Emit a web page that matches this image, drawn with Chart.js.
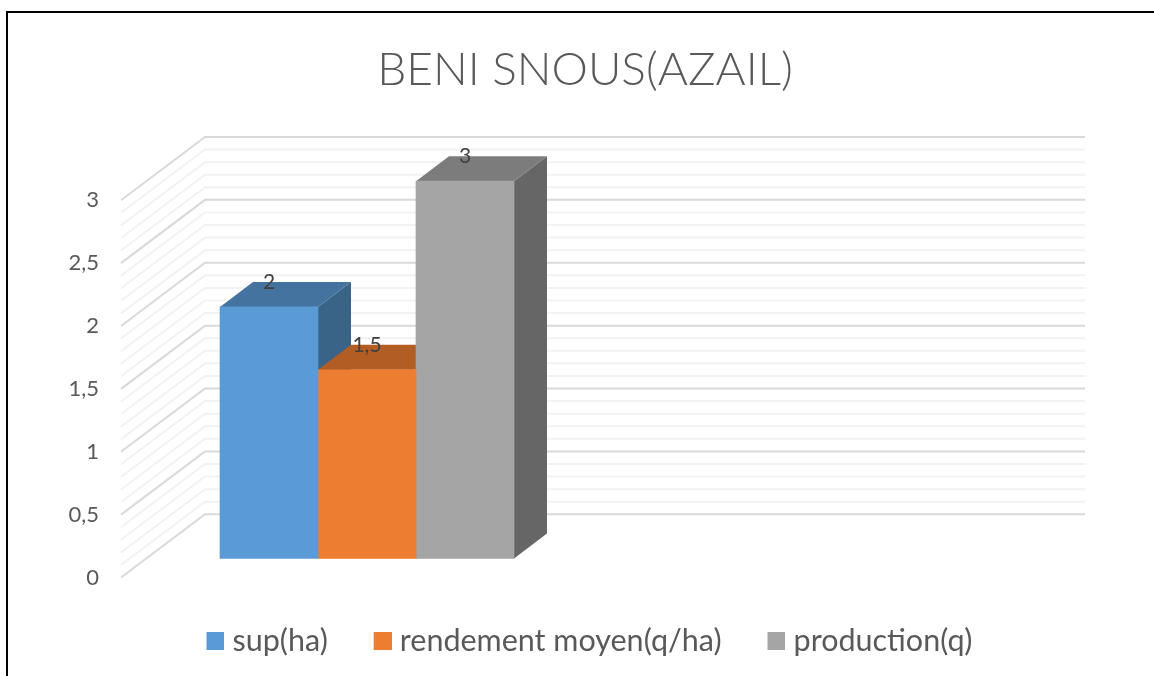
<!DOCTYPE html>
<html><head><meta charset="utf-8">
<style>
html,body{margin:0;padding:0;background:#fff;overflow:hidden}
#wrap{position:absolute;left:0;top:0;width:1154px;height:676px}
#frame{position:absolute;left:6px;top:11px;width:1148px;height:665px;border-left:2.5px solid #000;border-top:2.5px solid #000;box-sizing:border-box}
canvas{position:absolute;left:0;top:0}
</style>
<script src="https://cdn.jsdelivr.net/npm/chart.js@4/dist/chart.umd.min.js"></script>
</head><body><div id="wrap"><div id="frame"></div><canvas id="c" width="1154" height="676"></canvas></div>
<script>
const chartTitle = 'BENI SNOUS(AZAIL)';
const categories = ['AZAIL', ''];
const seriesNames = ['sup(ha)', 'rendement moyen(q/ha)', 'production(q)'];
const supHa = [2];
const rendementMoyen = [1.5];
const production = [3];
const frontColors = ['#5B9BD5', '#ED7D31', '#A5A5A5'];
const topColors = ['#44739F', '#B15D24', '#7C7C7C'];
const sideColors = ['#3A6487', '#9A5120', '#666666'];
const yTickValues = [0, 0.5, 1, 1.5, 2, 2.5, 3];
const minorGridValues = [0.1,0.2,0.3,0.4,0.6,0.7,0.8,0.9,1.1,1.2,1.3,1.4,1.6,1.7,1.8,1.9,2.1,2.2,2.3,2.4,2.6,2.7,2.8,2.9];

const DEPTH_X = 33, DEPTH_Y = 25, WALL_X = 84;

function legendSwatch(color) {
  const c = document.createElement('canvas');
  c.width = 34; c.height = 18;
  const g = c.getContext('2d');
  g.fillStyle = color;
  g.fillRect(16, 0, 18, 18);
  return c;
}

const threeD = {
  id: 'threeD',
  beforeDatasetsDraw(chart) {
    const ctx = chart.ctx, f = chart.scales.y, b = chart.scales.yBack, area = chart.chartArea;
    const left = area.left, back = left + WALL_X, right = area.right - 20;
    ctx.save();
    ctx.lineWidth = 2;
    const line = (v, color) => {
      ctx.strokeStyle = color;
      ctx.beginPath();
      ctx.moveTo(left, f.getPixelForValue(v));
      ctx.lineTo(back, b.getPixelForValue(v));
      ctx.lineTo(right, b.getPixelForValue(v));
      ctx.stroke();
    };
    minorGridValues.forEach(v => line(v, '#F2F2F2'));
    yTickValues.forEach(v => line(v, '#D9D9D9'));
    chart.data.datasets.forEach((ds, i) => {
      const bar = chart.getDatasetMeta(i).data[0];
      const l = bar.x - bar.width / 2, r = bar.x + bar.width / 2, t = bar.y, bs = bar.base;
      ctx.fillStyle = sideColors[i];
      ctx.beginPath();
      ctx.moveTo(r, t); ctx.lineTo(r + DEPTH_X, t - DEPTH_Y);
      ctx.lineTo(r + DEPTH_X, bs - DEPTH_Y); ctx.lineTo(r, bs);
      ctx.closePath(); ctx.fill();
      ctx.fillStyle = topColors[i];
      ctx.beginPath();
      ctx.moveTo(l, t); ctx.lineTo(l + DEPTH_X, t - DEPTH_Y);
      ctx.lineTo(r + DEPTH_X, t - DEPTH_Y); ctx.lineTo(r, t);
      ctx.closePath(); ctx.fill();
    });
    ctx.restore();
  },
  afterDatasetsDraw(chart) {
    const ctx = chart.ctx;
    ctx.save();
    ctx.font = '21px Lato';
    ctx.fillStyle = '#404040';
    ctx.textAlign = 'center';
    ctx.textBaseline = 'middle';
    chart.data.datasets.forEach((ds, i) => {
      const bar = chart.getDatasetMeta(i).data[0];
      ctx.fillText(String(ds.data[0]).replace('.', ','), bar.x, bar.y - DEPTH_Y);
    });
    ctx.restore();
  }
};

const seriesValues = [supHa, rendementMoyen, production];
new Chart(document.getElementById('c'), {
  type: 'bar',
  data: {
    labels: categories,
    datasets: seriesNames.map((n, i) => ({
      label: n, data: seriesValues[i], backgroundColor: frontColors[i],
      borderWidth: 0, yAxisID: 'yBars', barThickness: 98
    }))
  },
  plugins: [threeD],
  options: {
    responsive: false, animation: false, maintainAspectRatio: false,
    layout: { padding: { left: 16, right: 0, top: 0, bottom: 10 } },
    plugins: {
      tooltip: { enabled: false },
      title: {
        display: true, text: chartTitle, color: '#595959',
        font: { family: 'Lato', size: 46, weight: 300 },
        padding: { top: 43, bottom: 37.8 }
      },
      legend: {
        position: 'bottom',
        labels: {
          usePointStyle: true, pointStyleWidth: 19.75, boxHeight: 18, padding: 37,
          color: '#595959', font: { family: 'Lato', size: 30.5 },
          generateLabels(chart) {
            return Chart.defaults.plugins.legend.labels.generateLabels(chart)
              .map((item, i) => Object.assign(item, { pointStyle: legendSwatch(frontColors[i]) }));
          }
        }
      }
    },
    scales: {
      x: { display: false, afterFit(a) { a.height = 11; } },
      y: {
        min: 0, max: 3.5106, position: 'left',
        afterBuildTicks(a) { a.ticks = yTickValues.map(v => ({ value: v })); },
        afterFit(a) { a.width = 105; },
        grid: { display: false, drawTicks: false }, border: { display: false },
        ticks: { padding: 22, color: '#595959', font: { family: 'Lato', size: 22 },
          callback: v => String(v).replace('.', ',') }
      },
      yBars: { display: false, min: -0.1516, max: 3.359 },
      yBack: { display: false, position: 'right', min: -0.5027, max: 3.0079, afterFit(a) { a.width = 49; } }
    }
  }
});
</script></body></html>
